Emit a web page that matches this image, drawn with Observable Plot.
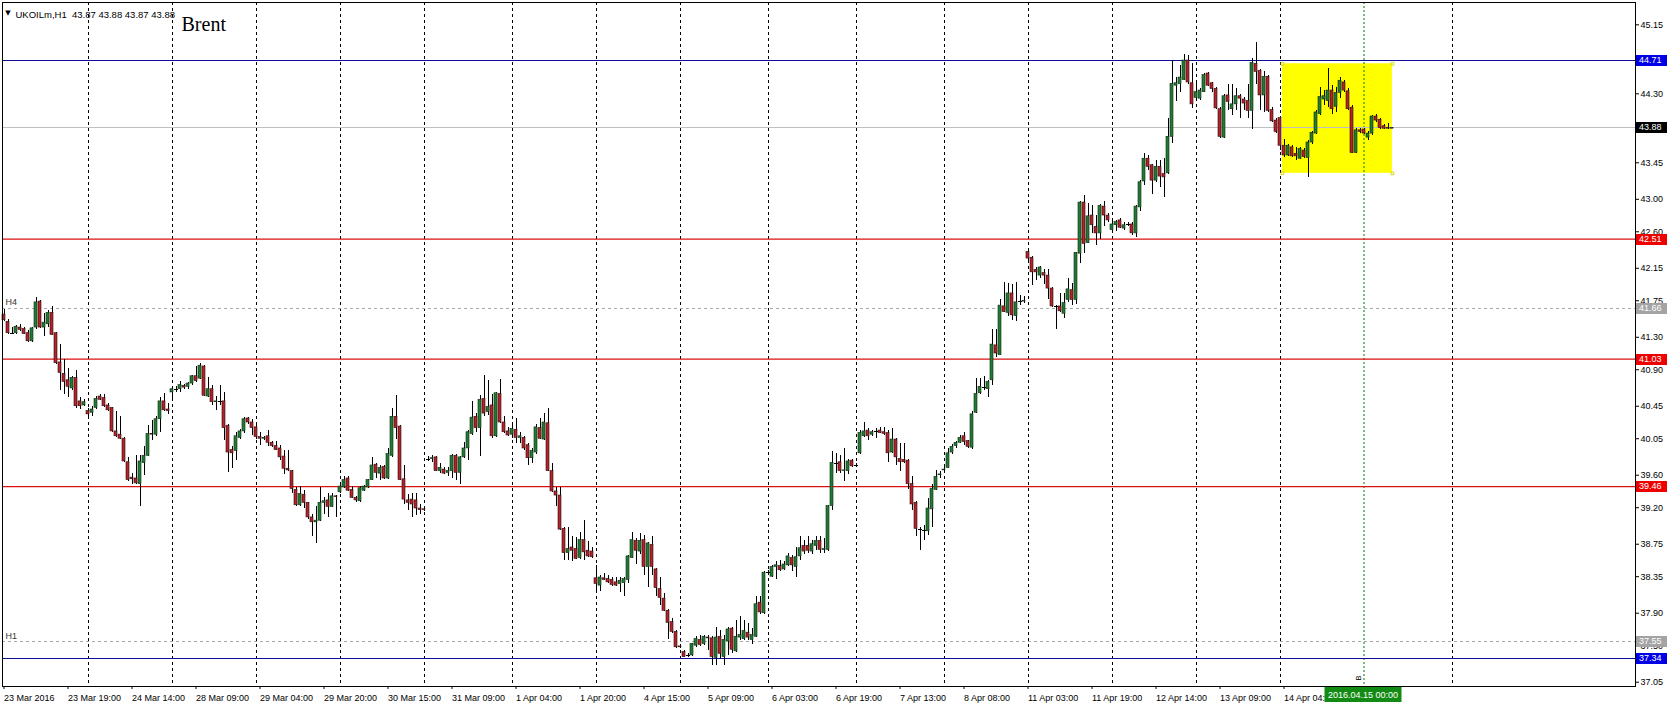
<!DOCTYPE html>
<html><head><meta charset="utf-8">
<script src="https://cdn.jsdelivr.net/npm/d3@7"></script>
<script src="https://cdn.jsdelivr.net/npm/@observablehq/plot@0.6"></script>
<style>html,body{margin:0;padding:0;background:#fff;} #chart svg{display:block;}</style>
</head><body><div id="chart"></div>
<script>
// ---- candle data (UKOILm, H1), bar index 0..347 ----
const opens = [
41.58,41.49,41.35,41.35,41.42,41.40,41.35,41.25,41.42,41.74,
41.42,41.46,41.60,41.35,40.99,40.85,40.77,40.67,40.80,40.51,
40.46,40.39,40.37,40.43,40.57,40.55,40.46,40.43,40.14,40.10,
40.05,39.76,39.57,39.56,39.49,39.75,39.84,40.11,40.10,40.29,
40.51,40.41,40.62,40.66,40.66,40.70,40.69,40.73,40.82,40.79,
40.94,40.57,40.66,40.50,40.51,40.51,40.21,39.91,39.90,40.06,
40.14,40.30,40.25,40.19,40.07,40.05,40.08,40.00,39.96,39.93,
39.83,39.68,39.65,39.42,39.23,39.36,39.26,39.08,39.02,39.04,
39.26,39.29,39.21,39.34,39.39,39.45,39.56,39.42,39.32,39.28,
39.41,39.45,39.54,39.73,39.62,39.70,39.56,39.84,40.32,40.20,
39.55,39.29,39.30,39.29,39.19,39.18,39.80,39.80,39.82,39.65,
39.67,39.63,39.65,39.84,39.63,39.82,39.93,40.11,40.32,40.18,
40.54,40.38,40.46,40.08,40.60,40.25,40.14,40.10,40.16,40.06,
40.06,39.97,39.81,39.88,40.18,40.04,40.24,39.65,39.40,39.35,
38.94,38.64,38.71,38.69,38.58,38.80,38.67,38.66,38.33,38.24,
38.33,38.32,38.31,38.28,38.26,38.27,38.31,38.58,38.79,38.66,
38.80,38.47,38.74,38.44,38.20,38.08,37.93,37.79,37.67,37.49,
37.42,37.38,37.38,37.50,37.57,37.52,37.60,37.59,37.35,37.61,
37.36,37.55,37.71,37.43,37.60,37.58,37.66,37.57,37.61,38.03,
37.90,38.40,38.35,38.47,38.48,38.44,38.49,38.58,38.47,38.60,
38.73,38.73,38.66,38.73,38.79,38.68,38.68,39.22,39.75,39.76,
39.65,39.65,39.78,39.72,39.87,40.08,40.15,40.10,40.14,40.15,
40.13,40.12,39.88,40.04,39.80,39.79,39.78,39.49,39.26,38.93,
38.92,38.91,39.18,39.42,39.60,39.66,39.69,39.88,39.96,40.00,
40.08,40.02,39.94,40.37,40.61,40.68,40.66,40.77,41.20,41.08,
41.68,41.60,41.84,41.56,41.74,41.74,42.35,42.28,42.13,42.06,
42.09,42.06,41.90,41.68,41.68,41.59,41.76,41.88,41.76,42.33,
42.96,42.46,42.80,42.66,42.58,42.91,42.80,42.62,42.68,42.74,
42.64,42.69,42.69,42.58,42.90,43.22,43.50,43.42,43.23,43.40,
43.31,43.32,43.77,44.40,44.42,44.47,44.71,44.43,44.25,44.24,
44.32,44.55,44.43,44.36,44.11,43.76,44.28,44.11,44.17,44.27,
44.23,44.21,44.09,44.67,44.58,44.28,44.51,44.10,43.97,44.00,
43.66,43.54,43.64,43.56,43.50,43.60,43.51,43.70,43.81,44.05,
44.23,44.21,44.34,44.14,44.31,44.44,44.33,44.13,43.57,43.85,
43.86,43.76,43.81,44.02,43.98,43.90,43.88,43.87];
const highs = [
41.64,41.52,41.42,41.45,41.46,41.42,41.38,41.42,41.79,41.75,
41.59,41.63,41.68,41.36,41.21,41.03,40.91,40.82,40.89,40.56,
40.53,40.42,40.45,40.57,40.60,40.60,40.48,40.44,40.38,40.32,
40.06,39.82,39.62,39.84,39.84,39.96,40.21,40.27,40.32,40.56,
40.61,40.48,40.69,40.69,40.75,40.72,40.74,40.83,40.94,40.98,
40.95,40.80,40.71,40.57,40.71,40.62,40.23,39.95,40.13,40.16,
40.31,40.31,40.29,40.25,40.13,40.08,40.15,40.02,40.01,39.97,
39.91,39.91,39.66,39.45,39.46,39.41,39.27,39.12,39.21,39.45,
39.33,39.37,39.37,39.35,39.49,39.58,39.58,39.46,39.34,39.46,
39.47,39.55,39.82,39.74,39.72,39.72,39.93,40.42,40.58,40.21,
39.72,39.36,39.38,39.37,39.24,39.21,39.83,39.84,39.83,39.74,
39.69,39.70,39.85,39.85,39.83,40.00,40.15,40.51,40.36,40.58,
40.83,40.77,40.60,40.62,40.78,40.32,40.19,40.21,40.30,40.13,
40.08,39.99,39.93,40.23,40.30,40.36,40.42,39.74,39.45,39.45,
38.96,38.96,38.84,38.83,38.89,39.04,38.78,38.71,38.49,38.37,
38.39,38.37,38.34,38.34,38.34,38.34,38.61,38.90,38.82,38.88,
38.86,38.77,38.84,38.45,38.34,38.14,37.94,37.84,37.69,37.51,
37.44,37.40,37.53,37.61,37.63,37.63,37.63,37.61,37.72,37.69,
37.62,37.72,37.73,37.81,37.86,37.81,37.77,37.71,38.10,38.10,
38.42,38.43,38.49,38.54,38.55,38.54,38.63,38.61,38.71,38.84,
38.80,38.84,38.79,38.84,38.85,38.82,39.23,39.89,39.87,39.84,
39.93,39.79,39.80,39.74,40.15,40.25,40.17,40.15,40.17,40.19,
40.19,40.15,40.17,40.05,39.99,39.99,39.80,39.58,39.28,38.95,
38.98,39.31,39.49,39.66,39.64,39.70,39.93,39.98,40.02,40.09,
40.13,40.03,40.38,40.79,40.79,40.82,40.77,41.40,41.40,41.77,
41.98,41.96,41.95,41.98,41.82,41.80,42.38,42.29,42.16,42.17,
42.14,42.13,41.91,41.69,41.84,41.84,42.02,41.96,42.35,42.97,
43.05,42.95,42.92,42.80,42.93,42.97,42.83,42.76,42.74,42.76,
42.71,42.72,42.72,42.92,43.23,43.56,43.54,43.43,43.48,43.48,
43.50,43.99,44.71,44.50,44.65,44.79,44.77,44.67,44.43,44.36,
44.55,44.56,44.44,44.38,44.13,44.29,44.42,44.42,44.36,44.29,
44.26,44.41,44.74,44.93,44.60,44.57,44.53,44.13,43.99,44.02,
43.74,43.68,43.66,43.64,43.64,43.62,43.72,43.83,44.09,44.38,
44.34,44.61,44.40,44.38,44.50,44.46,44.36,44.15,43.87,43.87,
43.87,43.83,44.03,44.04,43.99,43.92,43.93,43.88];
const lows = [
41.49,41.34,41.33,41.34,41.37,41.33,41.24,41.23,41.40,41.41,
41.31,41.42,41.32,40.96,40.64,40.60,40.56,40.64,40.42,40.41,
40.45,40.30,40.32,40.41,40.52,40.43,40.39,40.13,40.07,40.04,
39.76,39.52,39.49,39.49,39.21,39.60,39.83,40.03,40.08,40.13,
40.39,40.35,40.52,40.62,40.62,40.66,40.66,40.71,40.74,40.78,
40.57,40.56,40.46,40.40,40.46,40.03,39.63,39.68,39.78,40.04,
40.12,40.23,40.09,40.04,39.97,40.03,39.95,39.94,39.90,39.78,
39.61,39.64,39.38,39.21,39.22,39.19,39.06,38.84,38.76,39.03,
39.12,39.08,39.20,39.08,39.38,39.44,39.40,39.31,39.27,39.27,
39.40,39.44,39.53,39.56,39.54,39.55,39.55,39.82,40.04,39.53,
39.24,39.17,39.08,39.10,39.12,39.15,39.77,39.76,39.64,39.62,
39.61,39.58,39.56,39.54,39.49,39.81,39.78,40.09,40.13,39.83,
40.32,40.34,40.05,40.07,40.24,40.12,40.08,40.05,39.99,39.99,
39.91,39.72,39.74,39.86,40.04,40.03,39.64,39.39,39.21,38.92,
38.55,38.55,38.54,38.56,38.56,38.55,38.59,38.58,38.15,38.17,
38.30,38.27,38.23,38.23,38.16,38.11,38.26,38.57,38.50,38.62,
38.37,38.22,38.37,38.11,38.00,37.92,37.58,37.65,37.46,37.46,
37.35,37.35,37.37,37.48,37.49,37.50,37.44,37.26,37.25,37.33,
37.26,37.38,37.40,37.42,37.56,37.56,37.56,37.52,37.60,37.89,
37.89,38.37,38.34,38.32,38.42,38.43,38.48,38.41,38.34,38.55,
38.62,38.63,38.62,38.67,38.64,38.63,38.66,39.17,39.62,39.62,
39.52,39.61,39.70,39.70,39.86,40.07,40.03,40.08,40.05,40.11,
40.09,39.76,39.87,39.72,39.64,39.74,39.43,39.17,38.84,38.67,
38.79,38.86,38.95,39.41,39.56,39.62,39.68,39.86,39.93,39.99,
39.97,39.93,39.92,40.36,40.59,40.64,40.56,40.71,41.05,41.07,
41.60,41.55,41.51,41.49,41.69,41.72,42.25,41.94,42.00,42.02,
41.95,41.76,41.67,41.40,41.61,41.53,41.73,41.69,41.71,42.21,
42.33,42.45,42.58,42.43,42.51,42.66,42.72,42.58,42.60,42.64,
42.61,42.66,42.55,42.53,42.85,43.17,43.35,43.06,43.21,43.15,
43.02,43.31,43.69,44.21,44.31,44.46,44.42,44.12,44.23,44.22,
44.31,44.39,44.32,44.11,43.75,43.75,44.09,44.03,44.09,44.00,
44.09,44.00,43.86,44.42,44.09,44.07,44.07,43.95,43.81,43.60,
43.52,43.53,43.52,43.48,43.49,43.50,43.27,43.68,43.80,44.03,
44.16,44.13,44.05,44.07,44.24,44.31,44.09,43.56,43.56,43.81,
43.80,43.72,43.79,43.95,43.86,43.86,43.86,43.87];
const closes = [
41.51,41.35,41.35,41.43,41.39,41.34,41.25,41.41,41.73,41.42,
41.48,41.60,41.33,40.98,40.86,40.75,40.69,40.80,40.45,40.45,
40.50,40.35,40.41,40.54,40.53,40.45,40.40,40.14,40.08,40.05,
39.77,39.54,39.55,39.50,39.77,39.84,40.11,40.10,40.29,40.51,
40.40,40.39,40.66,40.66,40.71,40.68,40.73,40.82,40.76,40.95,
40.58,40.66,40.50,40.51,40.51,40.18,39.88,39.87,40.08,40.14,
40.29,40.25,40.18,40.07,40.05,40.06,40.00,39.96,39.91,39.82,
39.68,39.66,39.43,39.23,39.37,39.26,39.08,39.02,39.04,39.26,
39.28,39.21,39.34,39.33,39.46,39.54,39.41,39.32,39.29,39.44,
39.46,39.54,39.72,39.63,39.69,39.56,39.86,40.32,40.18,39.54,
39.30,39.26,39.24,39.19,39.17,39.17,39.80,39.81,39.65,39.69,
39.62,39.65,39.84,39.63,39.82,39.93,40.13,40.31,40.18,40.53,
40.36,40.44,40.08,40.61,40.25,40.13,40.09,40.17,40.06,40.08,
39.93,39.81,39.90,40.19,40.05,40.25,39.65,39.40,39.35,38.93,
38.64,38.69,38.67,38.57,38.80,38.65,38.60,38.59,38.26,38.34,
38.31,38.28,38.25,38.24,38.30,38.32,38.60,38.80,38.67,38.79,
38.47,38.76,38.47,38.21,38.09,37.93,37.78,37.67,37.48,37.48,
37.36,37.38,37.52,37.58,37.51,37.61,37.59,37.36,37.60,37.40,
37.57,37.70,37.45,37.61,37.63,37.68,37.60,37.63,38.01,37.91,
38.40,38.40,38.47,38.49,38.43,38.50,38.60,38.49,38.59,38.70,
38.66,38.67,38.75,38.79,38.68,38.69,39.22,39.75,39.75,39.65,
39.66,39.77,39.71,39.72,40.12,40.14,40.08,40.13,40.14,40.12,
40.11,39.87,40.04,39.82,39.76,39.76,39.49,39.24,38.94,38.93,
38.92,39.19,39.43,39.58,39.61,39.67,39.87,39.95,40.00,40.06,
40.01,39.95,40.35,40.60,40.69,40.68,40.75,41.21,41.10,41.69,
41.61,41.84,41.57,41.73,41.74,41.75,42.27,42.10,42.10,42.16,
42.06,41.90,41.68,41.68,41.62,41.72,41.89,41.76,42.34,42.96,
42.45,42.79,42.68,42.58,42.92,42.80,42.74,42.69,42.72,42.65,
42.68,42.69,42.58,42.91,43.21,43.50,43.40,43.23,43.40,43.28,
43.27,43.77,44.42,44.43,44.50,44.71,44.44,44.17,44.32,44.34,
44.53,44.40,44.36,44.12,43.77,44.27,44.20,44.17,44.27,44.24,
44.18,44.09,44.68,44.57,44.28,44.51,44.09,43.96,43.83,43.66,
43.54,43.66,43.53,43.53,43.62,43.52,43.70,43.82,44.07,44.26,
44.27,44.34,44.11,44.31,44.46,44.34,44.11,43.57,43.85,43.83,
43.81,43.81,44.02,43.97,43.88,43.87,43.87,43.88];

// ---- axes / annotations ----
const timeLabels = ["23 Mar 2016","23 Mar 19:00","24 Mar 14:00","28 Mar 09:00","29 Mar 04:00","29 Mar 20:00","30 Mar 15:00","31 Mar 09:00","1 Apr 04:00","1 Apr 20:00","4 Apr 15:00","5 Apr 09:00","6 Apr 03:00","6 Apr 19:00","7 Apr 13:00","8 Apr 08:00","11 Apr 03:00","11 Apr 19:00","12 Apr 14:00","13 Apr 09:00","14 Apr 04:00"];
const timeLabelBars = [0,16,32,48,64,80,96,112,128,144,160,176,192,208,224,240,256,272,288,304,320];
const gridBars = [21,42,63,84,105,127,148,169,191,213,235,256,277,298,319,362];
const priceTicks = [45.15,44.30,43.45,43.00,42.60,42.15,41.75,41.30,40.90,40.45,40.05,39.60,39.20,38.75,38.35,37.90,37.50,37.05];
const blueLevels = [44.71, 37.34];
const redLevels = [42.51, 41.03, 39.46];
const greyLevels = [41.66, 37.55];
const bidLevel = [43.88];
const greyLevelNames = ["H4", "H1"];
const markerBar = 340, markerTime = "2016.04.15 00:00", markerName = "B";
const zoneBars = [319.6, 347.1];
const zonePrices = [43.32, 44.67];
const symbolText = "UKOILm,H1\u00a0\u00a043.87 43.88 43.87 43.88";
const titleText = "Brent";

const candles = opens.map((o,i)=>({i, o, h:highs[i], l:lows[i], c:closes[i]}));
const ups = candles.filter(d=>d.c-d.o>0.004);
const downs = candles.filter(d=>d.o-d.c>0.004);
const dojis = candles.filter(d=>Math.abs(d.c-d.o)<=0.004);
const labelMap = new Map(timeLabelBars.map((b,k)=>[b,timeLabels[k]]));
const zone = [{x1:zoneBars[0], x2:zoneBars[1], y1:zonePrices[0], y2:zonePrices[1]}];
const zoneCorners = [[zoneBars[0],zonePrices[1]],[zoneBars[1],zonePrices[1]],[zoneBars[0],zonePrices[0]],[zoneBars[1],zonePrices[0]]];
const tags = [
  ...blueLevels.map(v=>({v, box:"#0000e6"})),
  ...redLevels.map(v=>({v, box:"#ee0000"})),
  ...greyLevels.map(v=>({v, box:"#a4a4a4"})),
  ...bidLevel.map(v=>({v, box:"#000000"}))
];

const W = 1675, H = 707;
const plot = Plot.plot({
  width: W, height: H,
  marginLeft: 2, marginRight: 40, marginTop: 2, marginBottom: 21,
  style: {background:"#fff", color:"#000", fontFamily:"'Liberation Sans', Arial, sans-serif", fontSize:"9px", overflow:"visible"},
  x: {type:"linear", domain:[-0.375, 407.875]},
  y: {type:"linear", domain:[36.997, 45.425]},
  marks: [
    Plot.rect(zone, {x1:"x1", x2:"x2", y1:"y1", y2:"y2", fill:"#ffff00"}),
    Plot.ruleX(gridBars, {x:d=>d, stroke:"#000", strokeDasharray:"3,3", shapeRendering:"crispEdges"}),
    Plot.ruleX([markerBar], {x:d=>d, stroke:"#118811", strokeDasharray:"2,2", strokeWidth:1.1}),
    Plot.ruleY(bidLevel, {y:d=>d, stroke:"#c0c0c0", shapeRendering:"crispEdges"}),
    Plot.ruleY(greyLevels, {y:d=>d, stroke:"#a8a8a8", strokeDasharray:"3,3", shapeRendering:"crispEdges"}),
    Plot.ruleY(blueLevels, {y:d=>d, stroke:"#0c0c96", shapeRendering:"crispEdges"}),
    Plot.ruleY(redLevels, {y:d=>d, stroke:"#dd1111", strokeWidth:1.2}),
    Plot.ruleX(candles, {x:"i", y1:"l", y2:"h", stroke:"#000", strokeWidth:1, shapeRendering:"crispEdges"}),
    Plot.rect(ups, {x1:d=>d.i-0.375, x2:d=>d.i+0.375, y1:"o", y2:"c", fill:"#237a34", stroke:"#0b2a10", strokeWidth:0.6}),
    Plot.rect(downs, {x1:d=>d.i-0.375, x2:d=>d.i+0.375, y1:"o", y2:"c", fill:"#b3232a", stroke:"#2a0a0a", strokeWidth:0.6}),
    Plot.ruleY(dojis, {y:"c", x1:d=>d.i-0.5, x2:d=>d.i+0.5, stroke:"#000", shapeRendering:"crispEdges"}),
    Plot.dot(zoneCorners, {x:d=>d[0], y:d=>d[1], symbol:"square", r:1.6, fill:"#ffffb0", stroke:"#c8c800", strokeWidth:0.7}),
    Plot.frame({stroke:"#000", shapeRendering:"crispEdges"}),
    Plot.axisY({anchor:"right", ticks:priceTicks, tickSize:3, tickPadding:2, tickFormat:d=>d.toFixed(2), label:null, fontSize:9}),
    Plot.axisX({anchor:"bottom", ticks:timeLabelBars, tickSize:3, tickPadding:5, tickFormat:d=>labelMap.get(d), textAnchor:"start", label:null, fontSize:9}),
    Plot.text(greyLevels, {frameAnchor:"left", y:d=>d, text:(d,k)=>greyLevelNames[k], dx:3, dy:-5.5, textAnchor:"start", fontSize:9, fill:"#333"}),
    Plot.text([markerName], {x:()=>markerBar, y:()=>37.10, text:d=>d, rotate:-90, dx:-6, fontSize:8, fill:"#000"}),
    Plot.text(["\u25BC"], {frameAnchor:"top-left", text:d=>d, dx:5.5, dy:8, fontSize:7, fontFamily:"DejaVu Sans", textAnchor:"middle"}),
    Plot.text([symbolText], {frameAnchor:"top-left", text:d=>d, dx:13, dy:8.5, fontSize:9.5, textAnchor:"start"}),
    Plot.text([titleText], {frameAnchor:"top-left", text:d=>d, dx:179, dy:14.6, fontSize:20, fontFamily:"'Liberation Serif', 'Times New Roman', serif", textAnchor:"start"})
  ]
});

// price tags on the right edge and the highlighted time tag, placed through the plot's own scales
const svg = d3.select(plot);
const ys = plot.scale("y"), xs = plot.scale("x");
const xRight = xs.apply(xs.domain[1]);
const tagLayer = svg.append("g").attr("text-anchor", "start");
tags.forEach(L => {
  const py = Math.round(ys.apply(L.v));
  tagLayer.append("rect").attr("x", xRight+1).attr("y", py-5).attr("width", 31).attr("height", 11).attr("fill", L.box);
  tagLayer.append("text").attr("x", xRight+4).attr("y", py+3.3).attr("fill", "#fff").attr("font-size", 9).attr("text-anchor", "start").text(L.v.toFixed(2));
});
const mx = xs.apply(markerBar);
const yBottom = ys.apply(ys.domain[0]);
tagLayer.append("rect").attr("x", mx-39).attr("y", yBottom+1).attr("width", 77).attr("height", 15).attr("fill", "#138a13");
tagLayer.append("text").attr("x", mx-0.5).attr("y", yBottom+12).attr("fill", "#fff").attr("font-size", 9).attr("text-anchor", "middle").text(markerTime);

document.getElementById("chart").appendChild(plot);
</script>
</body></html>
